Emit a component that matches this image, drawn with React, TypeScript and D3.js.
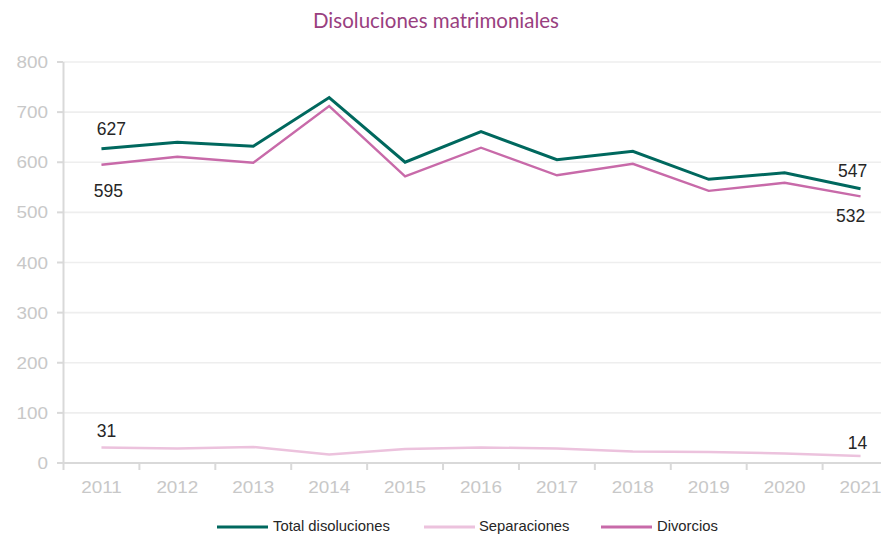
import React from "react";
import * as d3 from "d3";

const years = ["2011","2012","2013","2014","2015","2016","2017","2018","2019","2020","2021"];
const totalDisoluciones = [627, 640, 632, 729, 600, 661, 605, 622, 566, 579, 547];
const separaciones = [31, 29, 32, 17, 28, 31, 29, 23, 22, 19, 14];
const divorcios = [595, 611, 599, 712, 572, 629, 574, 597, 543, 559, 532];
const yTicks = [0, 100, 200, 300, 400, 500, 600, 700, 800];
const title = "Disoluciones matrimoniales";

const seriesNames = ["Total disoluciones", "Separaciones", "Divorcios"];
const seriesValues = [totalDisoluciones, separaciones, divorcios];
const seriesColors = ["#00685e", "#ecc2dd", "#c86aa9"];
const seriesWidths = [3, 2.4, 2.4];

// label styling: series index, year index, offsets
const labelSpecs = [
  { s: 0, i: 0, dx: 10, dy: -14 },
  { s: 2, i: 0, dx: 7, dy: 32 },
  { s: 1, i: 0, dx: 5, dy: -10 },
  { s: 0, i: 10, dx: -8, dy: -12 },
  { s: 2, i: 10, dx: -10, dy: 26 },
  { s: 1, i: 10, dx: -3, dy: -7 },
];

const W = 881;
const H = 534;

export default function App() {
  const x = d3.scaleBand<string>().domain(years).range([63.5, 898.5]).padding(0);
  const y = d3.scaleLinear().domain([0, 800]).range([463, 62]);
  const bw = x.bandwidth();
  const cx = (yr: string) => (x(yr) as number) + bw / 2;
  const line = (vals: number[]) =>
    d3.line<number>().x((_, i) => cx(years[i])).y((v) => y(v))(vals) as string;

  const axisColor = "#d9d9d9";
  const tickColor = "#c8c8c8";
  const font = "'Liberation Sans', Arial, sans-serif";

  const legendItems = [
    { x: 217, tx: 273 },
    { x: 424, tx: 479 },
    { x: 601, tx: 657 },
  ];

  return (
    <svg width={W} height={H} style={{ position: "absolute", left: 0, top: 0, background: "#fff" }}>
      <text x={436} y={28} textAnchor="middle" fontFamily="Lato, 'Open Sans', sans-serif" fontSize={20.5} fill="#993f80">
        {title}
      </text>
      {/* grid */}
      {yTicks.filter((t) => t > 0).map((t) => (
        <line key={t} x1={63} x2={W} y1={y(t)} y2={y(t)} stroke="#eeeeee" strokeWidth={1.6} />
      ))}
      {/* y axis */}
      <line x1={63.5} x2={63.5} y1={y(800)} y2={y(0) + 1} stroke={axisColor} strokeWidth={2} />
      {yTicks.map((t) => (
        <g key={t}>
          <line x1={57} x2={63} y1={y(t)} y2={y(t)} stroke={axisColor} strokeWidth={2} />
          <text
            transform={`translate(48,${y(t) + 6}) scale(1.18,1)`}
            textAnchor="end"
            fontFamily={font}
            fontSize={16}
            fill={tickColor}
          >
            {t}
          </text>
        </g>
      ))}
      {/* x axis */}
      <line x1={63} x2={W} y1={y(0)} y2={y(0)} stroke={axisColor} strokeWidth={2} />
      {years.map((yr) => (
        <g key={yr}>
          <line x1={(x(yr) as number)} x2={(x(yr) as number)} y1={y(0)} y2={y(0) + 7} stroke={axisColor} strokeWidth={2} />
          <text
            transform={`translate(${cx(yr)},${493}) scale(1.18,1)`}
            textAnchor="middle"
            fontFamily={font}
            fontSize={16}
            fill={tickColor}
          >
            {yr}
          </text>
        </g>
      ))}
      <line x1={898} x2={898} y1={y(0)} y2={y(0) + 7} stroke={axisColor} strokeWidth={2} />
      {/* lines (draw separaciones, divorcios, total) */}
      {[1, 2, 0].map((s) => (
        <path
          key={s}
          d={line(seriesValues[s])}
          fill="none"
          stroke={seriesColors[s]}
          strokeWidth={seriesWidths[s]}
          strokeLinejoin="miter"
        />
      ))}
      {/* data labels */}
      {labelSpecs.map((l, k) => (
        <text
          key={k}
          x={cx(years[l.i]) + l.dx}
          y={y(seriesValues[l.s][l.i]) + l.dy}
          textAnchor="middle"
          fontFamily={font}
          fontSize={17.5}
          fill="#262626"
        >
          {seriesValues[l.s][l.i]}
        </text>
      ))}
      {/* legend */}
      {legendItems.map((li, k) => (
        <g key={k}>
          <line x1={li.x} x2={li.x + 51} y1={527} y2={527} stroke={seriesColors[k]} strokeWidth={3} />
          <text x={li.tx} y={530.5} fontFamily={font} fontSize={14.8} fill="#262626">
            {seriesNames[k]}
          </text>
        </g>
      ))}
    </svg>
  );
}
